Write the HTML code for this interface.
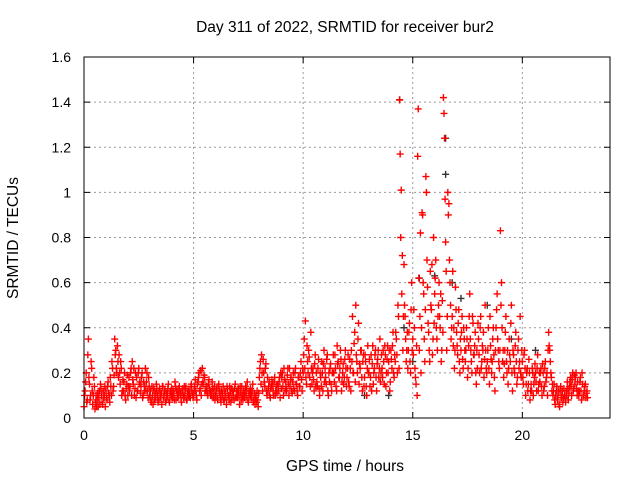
<!DOCTYPE html>
<html><head><meta charset="utf-8"><style>
body{margin:0;background:#fff;}
svg{display:block;font-family:"Liberation Sans",Arial,sans-serif;}
</style></head><body>
<svg id="chart" width="640" height="480">
<text x="345" y="32" text-anchor="middle" font-size="15.5">Day 311 of 2022, SRMTID for receiver bur2</text>
<text x="345" y="471" text-anchor="middle" font-size="15.5">GPS time / hours</text>
<text transform="translate(18,238) rotate(-90)" text-anchor="middle" font-size="15.5">SRMTID / TECUs</text>
<g id="grid"></g><g id="ticks"></g><g id="black"></g><g id="red"></g>
<rect x="84" y="57" width="526" height="361" fill="none" stroke="#000" stroke-width="1"/>
</svg>
<script>
const xTicks=[0,5,10,15,20];
const yTicks=[0,0.2,0.4,0.6,0.8,1,1.2,1.4,1.6];
const yTickLabels=["0","0.2","0.4","0.6","0.8","1","1.2","1.4","1.6"];
const hours=[0.0,0.2,0.4,0.6,0.8,1.0,1.2,1.4,1.6,1.8,2.0,2.2,2.4,2.6,2.8,3.0,3.2,3.4,3.6,3.8,4.0,4.2,4.4,4.6,4.8,5.0,5.2,5.4,5.6,5.8,6.0,6.2,6.4,6.6,6.8,7.0,7.2,7.4,7.6,7.8,8.0,8.2,8.4,8.6,8.8,9.0,9.2,9.4,9.6,9.8,10.0,10.2,10.4,10.6,10.8,11.0,11.2,11.4,11.6,11.8,12.0,12.2,12.4,12.6,12.8,13.0,13.2,13.4,13.6,13.8,14.0,14.2,14.4,14.6,14.8,15.0,15.2,15.4,15.6,15.8,16.0,16.2,16.4,16.6,16.8,17.0,17.2,17.4,17.6,17.8,18.0,18.2,18.4,18.6,18.8,19.0,19.2,19.4,19.6,19.8,20.0,20.2,20.4,20.6,20.8,21.0,21.2,21.4,21.6,21.8,22.0,22.2,22.4,22.6,22.8];
const redValues=[
[.05,.12,.2,.08],[.35,.15,.1,.22],[.06,.18,.04,.1],[.08,.05,.12,.15],[.1,.06,.09,.14],[.12,.08,.16,.1],[.18,.1,.22,.14],[.35,.3,.2,.25],[.28,.15,.22,.12],[.12,.2,.08,.15],
[.1,.18,.14,.22],[.25,.15,.1,.2],[.18,.12,.22,.16],[.14,.2,.1,.12],[.22,.16,.12,.18],[.1,.08,.14,.06],[.12,.09,.15,.1],[.08,.13,.1,.06],[.14,.1,.12,.08],[.1,.15,.07,.12],
[.13,.09,.11,.16],[.08,.12,.1,.14],[.11,.07,.13,.09],[.1,.14,.08,.12],[.12,.09,.15,.11],[.1,.14,.12,.08],[.16,.2,.13,.1],[.22,.15,.18,.12],[.14,.1,.17,.12],[.12,.16,.09,.14],
[.1,.13,.08,.15],[.12,.07,.1,.14],[.08,.11,.06,.13],[.1,.14,.07,.09],[.12,.08,.15,.1],[.09,.13,.06,.11],[.14,.08,.1,.12],[.1,.16,.07,.12],[.13,.09,.15,.08],[.06,.1,.12,.05],
[.18,.25,.28,.12],[.2,.14,.24,.1],[.12,.16,.09,.14],[.15,.1,.18,.12],[.11,.14,.16,.09],[.13,.2,.1,.17],[.16,.12,.22,.1],[.14,.18,.11,.2],[.12,.22,.15,.1],[.18,.14,.25,.12],
[.2,.35,.43,.15],[.25,.3,.18,.38],[.15,.22,.12,.28],[.2,.14,.26,.1],[.18,.25,.12,.3],[.22,.15,.28,.1],[.16,.24,.12,.2],[.2,.28,.14,.32],[.25,.18,.3,.12],[.2,.15,.26,.22],
[.18,.28,.14,.22],[.3,.45,.2,.38],[.5,.25,.35,.15],[.22,.3,.12,.28],[.18,.25,.1,.32],[.2,.14,.28,.24],[.15,.22,.3,.12],[.26,.18,.35,.2],[.22,.3,.15,.28],[.2,.32,.25,.12],
[.3,.22,.38,.18],[.25,.35,.2,.45],[1.41,.8,.55,.3],[.68,.45,.25,.38],[.3,.42,.2,.6],[.35,.48,.22,.15],[.1,1.37,.3,.82],[.4,.9,.55,.25],[1.07,.7,.42,.3],[.65,.48,.28,.8],
[.55,.7,.35,.45],[.6,.4,.25,.52],[1.42,1.24,.78,.3],[1.0,.95,.6,.35],[.45,.32,.22,.58],[.38,.28,.48,.2],[.3,.45,.22,.35],[.25,.4,.18,.32],[.55,.3,.2,.42],[.28,.38,.15,.22],
[.35,.2,.45,.25],[.3,.18,.5,.22],[.25,.4,.15,.32],[.2,.35,.28,.12],[.4,.55,.3,.22],[.83,.6,.25,.18],[.3,.45,.2,.15],[.35,.25,.5,.12],[.28,.2,.38,.15],[.3,.22,.45,.18],
[.25,.15,.3,.1],[.2,.12,.26,.08],[.15,.22,.1,.18],[.2,.12,.28,.15],[.16,.22,.1,.2],[.14,.25,.18,.1],[.38,.3,.2,.12],[.1,.15,.06,.12],[.08,.12,.05,.14],[.1,.07,.13,.09],
[.12,.16,.08,.14],[.18,.1,.2,.13],[.15,.2,.1,.12],[.12,.18,.08,.15],[.1,.14,.09,.12]];
const redValues2=[
[.1,.16,.07,.28],[.18,.08,.25,.12],[.1,.14,.07,.05],[.11,.09,.06,.13],[.07,.12,.1,.05],[.09,.14,.11,.07],[.14,.25,.12,.19],[.28,.22,.32,.18],[.2,.25,.1,.17],[.16,.1,.13,.19],
[.14,.12,.2,.1],[.17,.22,.13,.09],[.12,.2,.15,.11],[.18,.09,.16,.14],[.12,.2,.09,.14],[.12,.07,.1,.13],[.08,.11,.13,.07],[.12,.09,.11,.14],[.09,.12,.07,.11],[.13,.08,.11,.1],
[.1,.12,.08,.14],[.12,.09,.13,.11],[.09,.12,.1,.14],[.13,.08,.11,.1],[.1,.14,.12,.09],[.12,.17,.1,.15],[.18,.12,.21,.15],[.16,.19,.12,.14],[.11,.15,.13,.1],[.1,.13,.11,.08],
[.12,.09,.14,.11],[.09,.12,.11,.08],[.12,.09,.14,.1],[.08,.11,.13,.12],[.1,.13,.09,.12],[.12,.1,.14,.08],[.1,.12,.09,.14],[.13,.08,.11,.1],[.1,.12,.07,.11],[.09,.07,.08,.11],
[.22,.15,.2,.26],[.16,.22,.12,.18],[.14,.1,.13,.17],[.12,.16,.1,.14],[.15,.12,.18,.2],[.18,.14,.22,.12],[.13,.19,.15,.22],[.17,.12,.16,.13],[.2,.15,.12,.18],[.14,.2,.17,.22],
[.28,.22,.18,.32],[.2,.27,.14,.22],[.2,.17,.24,.14],[.16,.22,.13,.2],[.14,.2,.24,.16],[.18,.26,.12,.2],[.22,.15,.2,.28],[.16,.22,.12,.24],[.18,.22,.26,.16],[.24,.18,.3,.14],
[.22,.16,.26,.12],[.25,.2,.33,.16],[.28,.2,.42,.24],[.3,.18,.25,.14],[.28,.14,.22,.2],[.26,.18,.12,.32],[.2,.28,.18,.24],[.3,.22,.16,.28],[.18,.25,.32,.14],[.26,.2,.3,.16],
[.26,.32,.2,.28],[.38,.28,.5,.22],[1.17,1.01,.72,.45],[.5,.35,.3,.22],[.38,.25,.48,.3],[.28,.4,.18,.32],[1.16,.62,.45,.2],[.91,.6,.35,.48],[1.0,.58,.38,.25],[.5,.68,.35,.42],
[.62,.4,.3,.5],[.45,.55,.3,.38],[1.35,.97,.65,.45],[.9,.7,.5,.4],[.65,.4,.3,.48],[.32,.42,.25,.35],[.38,.26,.4,.3],[.3,.35,.22,.45],[.35,.25,.45,.28],[.32,.2,.3,.42],
[.28,.4,.22,.32],[.38,.26,.3,.2],[.3,.22,.45,.26],[.25,.4,.18,.3],[.48,.35,.25,.3],[.5,.4,.3,.24],[.38,.25,.3,.22],[.28,.42,.2,.3],[.22,.32,.25,.18],[.35,.25,.2,.3],
[.18,.28,.22,.15],[.22,.15,.2,.12],[.12,.2,.15,.24],[.16,.22,.12,.2],[.2,.14,.24,.12],[.22,.16,.2,.3],[.32,.25,.18,.15],[.12,.08,.1,.14],[.1,.06,.12,.09],[.12,.09,.1,.07],
[.1,.13,.11,.16],[.14,.17,.12,.19],[.18,.13,.16,.1],[.16,.12,.2,.1],[.12,.15,.11,.09]];
const blackHours=[14.4,16.5,15.3,16.5,16.0,14.6,17.2,18.4,15.0,19.5,13.9,12.8,16.8,20.6];
const blackValues=[1.41,1.24,0.62,1.08,0.63,0.4,0.53,0.5,0.25,0.35,0.1,0.1,0.6,0.3];

const X0=84,X1=610,Y0=418,Y1=57;
const xs=h=>X0+(h/24)*(X1-X0);
const ys=v=>Y0-(v/1.6)*(Y0-Y1);
const NS="http://www.w3.org/2000/svg";
function mk(tag,attrs,parent){const e=document.createElementNS(NS,tag);for(const k in attrs)e.setAttribute(k,attrs[k]);parent.appendChild(e);return e;}
const grid=document.getElementById('grid'),ticks=document.getElementById('ticks');
xTicks.forEach(t=>{
 const x=xs(t);
 if(t>0){const g=mk('line',{x1:x,x2:x,y1:Y1,y2:Y0,stroke:'#999','stroke-dasharray':'2,3'},grid);
 
 }
 mk('line',{x1:x,x2:x,y1:Y0,y2:Y0-6,stroke:'#000'},ticks);
 mk('line',{x1:x,x2:x,y1:Y1,y2:Y1+6,stroke:'#000'},ticks);
 const l=mk('text',{x:x,y:Y0+22,'text-anchor':'middle','font-size':'14'},ticks);l.textContent=t;
 
 
});
yTicks.forEach((t,i)=>{
 const y=ys(t);
 if(t>0&&t<1.6){const g=mk('line',{x1:X0,x2:X1,y1:y,y2:y,stroke:'#999','stroke-dasharray':'2,3'},grid);
 
 }
 mk('line',{x1:X0,x2:X0+6,y1:y,y2:y,stroke:'#000'},ticks);
 mk('line',{x1:X1,x2:X1-6,y1:y,y2:y,stroke:'#000'},ticks);
 const l=mk('text',{x:X0-13,y:y+5,'text-anchor':'end','font-size':'14'},ticks);l.textContent=yTickLabels[i];
 
 
});
function plus(g,h,v,col,name){
 const x=xs(h),y=ys(v);
 const p=mk('path',{d:`M${x-3.5},${y}H${x+3.5}M${x},${y-3.5}V${y+3.5}`,stroke:col,'stroke-width':'1.4',fill:'none'},g);
 
 
}
const gb=document.getElementById('black'),gr=document.getElementById('red');
blackHours.forEach((h,i)=>plus(gb,h,blackValues[i],'#333','black-point'));
hours.forEach((h,i)=>redValues[i].forEach((v,k)=>plus(gr,h+k*0.05,v,'#f00','red-point')));
hours.forEach((h,i)=>redValues2[i].forEach((v,k)=>plus(gr,h+k*0.05+0.025,v,'#f00','red-point')));
</script>
</body></html>
